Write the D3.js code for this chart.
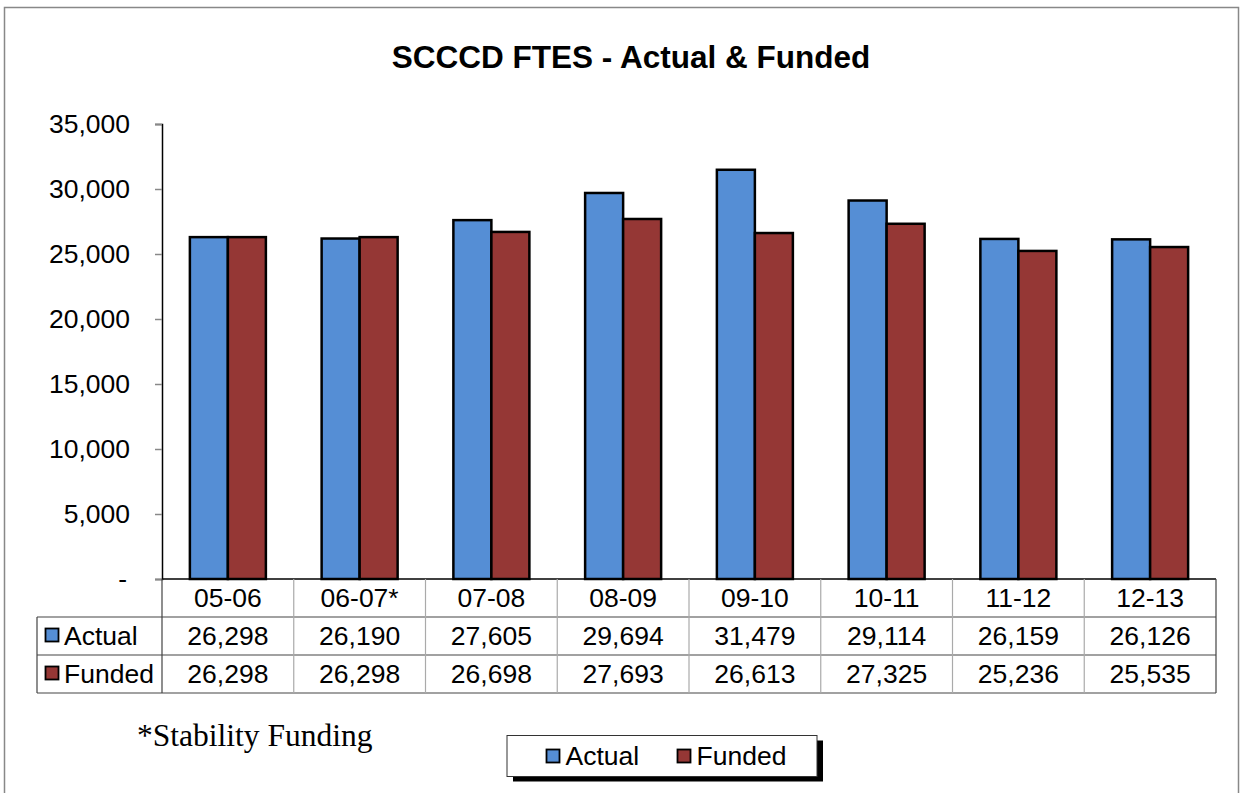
<!DOCTYPE html>
<html lang="en">
<head>
  <meta charset="UTF-8">
  <title>SCCCD FTES - Actual & Funded</title>
  <script src="https://d3js.org/d3.v7.min.js"></script>
  <style>
    body { margin: 0; background: #fff; }
    svg text { font-family: "Liberation Sans", Arial, sans-serif; fill: #000; }
  </style>
</head>
<body>
  <svg width="1241" height="793"></svg>

  <script>
  // data
  const years = ["05-06", "06-07*", "07-08", "08-09", "09-10", "10-11", "11-12", "12-13"];
  const actual = [26298, 26190, 27605, 29694, 31479, 29114, 26159, 26126];
  const funded = [26298, 26298, 26698, 27693, 26613, 27325, 25236, 25535];
  const seriesNames = ["Actual", "Funded"];
  const seriesColors = ["#558ed5", "#953735"];
  const yTicks = [0, 5000, 10000, 15000, 20000, 25000, 30000, 35000];

  const svg = d3.select("svg");
  const plotLeft = 162, plotRight = 1216, plotTop = 124, plotBottom = 579;
  const rowH = 38;
  const tableLeft = 37;
  const fs = "26.5px";

  // outer frame
  svg.append("rect")
    .attr("x", 4.5).attr("y", 7.5)
    .attr("width", 1234).attr("height", 800)
    .attr("fill", "none")
    .attr("stroke", "#888")
    .attr("stroke-width", 1.5);

  svg.append("text")
    .attr("x", 631).attr("y", 68)
    .attr("text-anchor", "middle")
    .attr("font-size", "31.5px")
    .attr("font-weight", "bold")
    .text("SCCCD FTES - Actual & Funded");

  const x = d3.scaleBand().domain(years).range([plotLeft, plotRight]);
  const y = d3.scaleLinear().domain([0, 35000]).range([plotBottom, plotTop]);
  const barW = 38;

  // y axis
  const yAxis = svg.append("g")
    .attr("transform", `translate(${plotLeft},0)`)
    .call(d3.axisLeft(y).tickValues(yTicks).tickSize(7).tickPadding(25)
      .tickFormat(d => d === 0 ? "-" : d3.format(",")(d)));
  yAxis.select(".domain").attr("stroke", "#000").attr("stroke-width", 1.5);
  yAxis.selectAll(".tick line").attr("stroke", "#888").attr("stroke-width", 1.5);
  yAxis.selectAll(".tick text")
    .attr("font-size", fs)
    .attr("font-family", "Liberation Sans, Arial, sans-serif")
    .attr("fill", "#000");
  yAxis.selectAll(".tick")
    .filter(d => d === 0)
    .select("text").attr("dx", "-3");

  // bars
  const data = [actual, funded];
  data.forEach((vals, si) => {
    svg.append("g").selectAll("rect")
      .data(vals)
      .join("rect")
      .attr("x", (d, i) => x(years[i]) + x.bandwidth() / 2 - barW + si * barW)
      .attr("y", d => y(d))
      .attr("width", barW)
      .attr("height", d => plotBottom - y(d))
      .attr("fill", seriesColors[si])
      .attr("stroke", "#000")
      .attr("stroke-width", 2.5);
  });

  // data table
  const tbl = svg.append("g");
  tbl.append("line")
    .attr("x1", plotLeft).attr("x2", plotRight)
    .attr("y1", plotBottom).attr("y2", plotBottom)
    .attr("stroke", "#000").attr("stroke-width", 1.5);
  [1, 2, 3].forEach(r => {
    tbl.append("line")
      .attr("x1", tableLeft).attr("x2", plotRight)
      .attr("y1", plotBottom + r * rowH).attr("y2", plotBottom + r * rowH)
      .attr("stroke", "#444").attr("stroke-width", 1.2);
  });
  const colEdges = years.map(yr => x(yr)).concat([plotRight]);
  colEdges.forEach((cx, i) => {
    const edge = i === 0 || i === colEdges.length - 1;
    tbl.append("line")
      .attr("x1", cx).attr("x2", cx)
      .attr("y1", plotBottom).attr("y2", plotBottom + 3 * rowH)
      .attr("stroke", edge ? "#444" : "#aaa").attr("stroke-width", 1.2);
  });
  tbl.append("line")
    .attr("x1", tableLeft).attr("x2", tableLeft)
    .attr("y1", plotBottom + rowH).attr("y2", plotBottom + 3 * rowH)
    .attr("stroke", "#444").attr("stroke-width", 1.2);

  tbl.selectAll("text.hdr")
    .data(years)
    .join("text")
    .attr("class", "hdr")
    .attr("x", d => x(d) + x.bandwidth() / 2)
    .attr("y", plotBottom + 28)
    .attr("text-anchor", "middle")
    .attr("font-size", fs)
    .text(d => d);

  data.forEach((vals, si) => {
    const rowY = plotBottom + (si + 1) * rowH;
    tbl.append("rect")
      .attr("x", 45.5).attr("y", rowY + 11.5)
      .attr("width", 13).attr("height", 13)
      .attr("fill", seriesColors[si])
      .attr("stroke", "#000").attr("stroke-width", 1.8);
    tbl.append("text")
      .attr("x", 64).attr("y", rowY + 28)
      .attr("font-size", fs)
      .text(seriesNames[si]);
    tbl.selectAll("text.v" + si)
      .data(vals)
      .join("text")
      .attr("class", "v" + si)
      .attr("x", (d, i) => x(years[i]) + x.bandwidth() / 2)
      .attr("y", rowY + 28)
      .attr("text-anchor", "middle")
      .attr("font-size", fs)
      .text(d => d3.format(",")(d));
  });

  // footnote
  svg.append("text")
    .attr("x", 137).attr("y", 746)
    .attr("font-size", "31.5px")
    .style("font-family", "'Liberation Serif', 'Times New Roman', serif")
    .text("*Stability Funding");

  // legend
  const lg = svg.append("g").attr("transform", "translate(507,735.5)");
  lg.append("rect")
    .attr("x", 6).attr("y", 5).attr("width", 310).attr("height", 41)
    .attr("fill", "#000");
  lg.append("rect")
    .attr("x", 0).attr("y", 0).attr("width", 310).attr("height", 41)
    .attr("fill", "#fff").attr("stroke", "#333").attr("stroke-width", 1);
  const lgX = [39.5, 170.5];
  seriesNames.forEach((name, si) => {
    lg.append("rect")
      .attr("x", lgX[si]).attr("y", 14)
      .attr("width", 13).attr("height", 13)
      .attr("fill", seriesColors[si])
      .attr("stroke", "#000").attr("stroke-width", 1.8);
    lg.append("text")
      .attr("x", lgX[si] + 19).attr("y", 29)
      .attr("font-size", fs)
      .text(name);
  });
  </script>
</body>
</html>
